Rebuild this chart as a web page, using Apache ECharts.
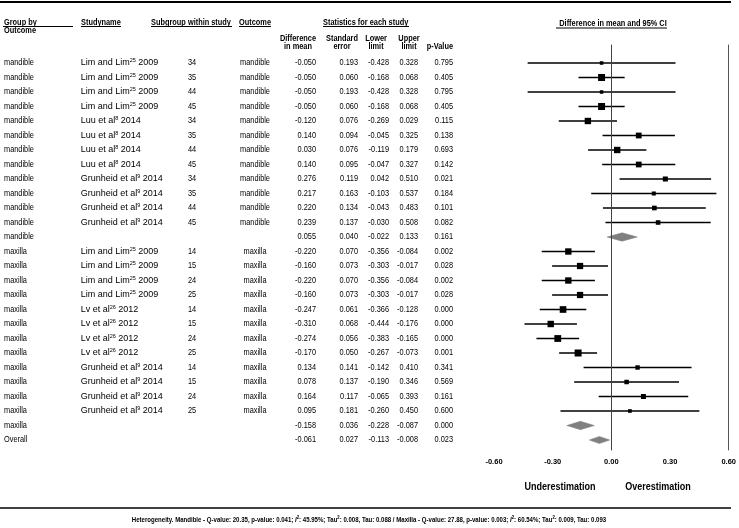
<!DOCTYPE html>
<html>
<head>
<meta charset="utf-8">
<script src="https://cdn.jsdelivr.net/npm/echarts@6/dist/echarts.min.js"></script>
<style>html,body{margin:0;padding:0;background:#fff}#c{width:739px;height:528px}</style>
</head>
<body>
<div id="c"></div>
<script>
// ---- data ----
var groups = ['mandible','mandible','mandible','mandible','mandible','mandible','mandible','mandible','mandible','mandible','mandible','mandible','mandible',
  'maxilla','maxilla','maxilla','maxilla','maxilla','maxilla','maxilla','maxilla','maxilla','maxilla','maxilla','maxilla','maxilla','Overall'];
var studyNames = ['Lim and Lim','Lim and Lim','Lim and Lim','Lim and Lim','Luu et al','Luu et al','Luu et al','Luu et al','Grunheid et al','Grunheid et al','Grunheid et al','Grunheid et al','',
  'Lim and Lim','Lim and Lim','Lim and Lim','Lim and Lim','Lv et al','Lv et al','Lv et al','Lv et al','Grunheid et al','Grunheid et al','Grunheid et al','Grunheid et al','',''];
var studyRefs = ['25','25','25','25','8','8','8','8','9','9','9','9','',
  '25','25','25','25','26','26','26','26','9','9','9','9','',''];
var studyYears = ['2009','2009','2009','2009','2014','2014','2014','2014','2014','2014','2014','2014','',
  '2009','2009','2009','2009','2012','2012','2012','2012','2014','2014','2014','2014','',''];
var subgroups = ['34','35','44','45','34','35','44','45','34','35','44','45','',
  '14','15','24','25','14','15','24','25','14','15','24','25','',''];
var outcomes = ['mandible','mandible','mandible','mandible','mandible','mandible','mandible','mandible','mandible','mandible','mandible','mandible','',
  'maxilla','maxilla','maxilla','maxilla','maxilla','maxilla','maxilla','maxilla','maxilla','maxilla','maxilla','maxilla','',''];
var rowKinds = ['study','study','study','study','study','study','study','study','study','study','study','study','summary',
  'study','study','study','study','study','study','study','study','study','study','study','study','summary','overall'];
var diffs  = [-0.050,-0.050,-0.050,-0.050,-0.120,0.140,0.030,0.140,0.276,0.217,0.220,0.239,0.055,
  -0.220,-0.160,-0.220,-0.160,-0.247,-0.310,-0.274,-0.170,0.134,0.078,0.164,0.095,-0.158,-0.061];
var stdErrs = [0.193,0.060,0.193,0.060,0.076,0.094,0.076,0.095,0.119,0.163,0.134,0.137,0.040,
  0.070,0.073,0.070,0.073,0.061,0.068,0.056,0.050,0.141,0.137,0.117,0.181,0.036,0.027];
var lowers = [-0.428,-0.168,-0.428,-0.168,-0.269,-0.045,-0.119,-0.047,0.042,-0.103,-0.043,-0.030,-0.022,
  -0.356,-0.303,-0.356,-0.303,-0.366,-0.444,-0.383,-0.267,-0.142,-0.190,-0.065,-0.260,-0.228,-0.113];
var uppers = [0.328,0.068,0.328,0.068,0.029,0.325,0.179,0.327,0.510,0.537,0.483,0.508,0.133,
  -0.084,-0.017,-0.084,-0.017,-0.128,-0.176,-0.165,-0.073,0.410,0.346,0.393,0.450,-0.087,-0.008];
var pValues = [0.795,0.405,0.795,0.405,0.115,0.138,0.693,0.142,0.021,0.184,0.101,0.082,0.161,
  0.002,0.028,0.002,0.028,0.000,0.000,0.000,0.001,0.341,0.569,0.161,0.600,0.000,0.023];
var tau2ByGroup = {mandible: 0.008, maxilla: 0.009};
var heterogeneity = ['Heterogeneity. Mandible - Q-value: 20.35, p-value: 0.041; ', '45.95%; Tau', ': 0.008, Tau: 0.088 / Maxilla - Q-value: 27.88, p-value: 0.003; ', '60.54%; Tau', ': 0.009, Tau: 0.093'];

// ---- layout ----
var SANS = "'Liberation Sans',Arial,sans-serif";
var SX = 0.82;  // horizontal squeeze to mimic a narrow face
var ROW0 = 63, ROWH = 14.5, GTOP = 45, GBOT = 450;
var yMin = (GTOP - ROW0) / ROWH, yMax = (GBOT - ROW0) / ROWH;
function f3(v){ return v.toFixed(3); }

// narrow-looking text element
function nt(x, y, txt, align, bold, size){
  return {type:'text', silent:true, x:x, y:y, scaleX:SX, scaleY:1,
    style:{text:txt, x:0, y:0, fill:'#000', textAlign:align||'left', textVerticalAlign:'middle',
      fontSize:size||9, fontFamily:SANS, fontWeight: bold?'bold':'normal'}};
}
function hline(x1, x2, y, w){
  return {type:'line', silent:true, shape:{x1:x1, y1:y, x2:x2, y2:y}, style:{stroke:'#000', lineWidth:w||1}};
}

var chart = echarts.init(document.getElementById('c'), null, {renderer:'canvas'});

var tableData = groups.map(function(g,i){ return [0, i]; });
var forestData = diffs.map(function(d,i){ return [d, i, lowers[i], uppers[i], stdErrs[i]]; });

var option = {
  animation:false,
  backgroundColor:'#fff',
  grid:{left:494, right:8.3, top:GTOP, bottom:528-GBOT, containLabel:false},
  xAxis:{type:'value', min:-0.6, max:0.6, interval:0.3,
    axisLine:{show:false}, axisTick:{show:false}, splitLine:{show:false},
    axisLabel:{margin:8, fontSize:7.5, fontWeight:'bold', fontFamily:SANS, color:'#000',
      formatter:function(v){ return v.toFixed(2); }}},
  yAxis:[
    {type:'value', inverse:true, min:yMin, max:yMax, position:'left',
      axisLine:{show:true, lineStyle:{color:'#555', width:1}}, axisTick:{show:false}, axisLabel:{show:false}, splitLine:{show:false}},
    {type:'value', inverse:true, min:yMin, max:yMax, position:'right',
      axisLine:{show:true, lineStyle:{color:'#555', width:1}}, axisTick:{show:false}, axisLabel:{show:false}, splitLine:{show:false}}
  ],
  series:[
    {
      type:'custom', name:'table', clip:false, silent:true, yAxisIndex:0,
      data: tableData, encode:{x:0, y:1},
      renderItem:function(params, api){
        var i = params.dataIndex;
        var y = api.coord([0, i])[1];
        var ch = [];
        ch.push(nt(4, y, groups[i], 'left'));
        if (studyNames[i]) {
          ch.push({type:'text', silent:true, x:80.7, y:y, style:{
            text:'{a|'+studyNames[i]+'}{s|'+studyRefs[i]+'}{a| '+studyYears[i]+'}',
            x:0, y:0, textAlign:'left', textVerticalAlign:'middle',
            rich:{a:{fontSize:9, fontFamily:SANS, color:'#000', lineHeight:11, verticalAlign:'middle'},
                  s:{fontSize:5.5, fontFamily:SANS, color:'#000', lineHeight:11, verticalAlign:'top'}}}});
        }
        if (subgroups[i]) ch.push(nt(188, y, subgroups[i], 'left'));
        if (outcomes[i]) ch.push(nt(255, y, outcomes[i], 'center'));
        ch.push(nt(316, y, f3(diffs[i]), 'right'));
        ch.push(nt(358, y, f3(stdErrs[i]), 'right'));
        ch.push(nt(389, y, f3(lowers[i]), 'right'));
        ch.push(nt(418, y, f3(uppers[i]), 'right'));
        ch.push(nt(453, y, f3(pValues[i]), 'right'));
        return {type:'group', children:ch};
      }
    },
    {
      type:'custom', name:'forest', clip:false, yAxisIndex:0,
      data: forestData, encode:{x:0, y:1},
      renderItem:function(params, api){
        var i = params.dataIndex;
        var est = api.value(0), r = api.value(1), lo = api.value(2), hi = api.value(3), se = api.value(4);
        var pc = api.coord([est, r]), pl = api.coord([lo, r]), ph = api.coord([hi, r]);
        if (rowKinds[i] === 'study') {
          var tau2 = tau2ByGroup[groups[i]];
          var side = 0.75 * Math.sqrt(1 / (se*se + tau2));
          return {type:'group', children:[
            {type:'line', shape:{x1:pl[0], y1:pl[1], x2:ph[0], y2:ph[1]}, style:{stroke:'#000', lineWidth:1.3}},
            {type:'rect', shape:{x:pc[0]-side/2, y:pc[1]-side/2, width:side, height:side}, style:{fill:'#000'}}
          ]};
        }
        var hh = rowKinds[i] === 'overall' ? 3.6 : 4.2;
        return {type:'polygon', shape:{points:[[pl[0],pl[1]],[pc[0],pc[1]-hh],[ph[0],ph[1]],[pc[0],pc[1]+hh]]},
          style:{fill:'#808080', stroke:'#808080', lineWidth:0.5}};
      },
      markLine:{silent:true, symbol:['none','none'], label:{show:false},
        lineStyle:{color:'#444', width:1, type:'solid'}, data:[{xAxis:0}]}
    }
  ],
  graphic:[
    hline(0, 731, 2, 2),
    hline(0, 731, 508, 1.6),
    // header row 1
    nt(4, 22.5, 'Group by', 'left', true),
    nt(4, 30.5, 'Outcome', 'left', true),
    hline(3, 73, 26.5),
    nt(81, 22.5, 'Studyname', 'left', true),
    hline(81, 121, 26.5),
    nt(151, 22.5, 'Subgroup within study', 'left', true),
    hline(151, 232, 26.5),
    nt(239, 22.5, 'Outcome', 'left', true),
    hline(239, 271, 26.5),
    nt(323, 22.5, 'Statistics for each study', 'left', true),
    hline(323, 409, 26.5),
    nt(613, 23.5, 'Difference in mean and 95% CI', 'center', true),
    hline(556, 667, 28),
    // header row 2
    nt(298, 38.5, 'Difference', 'center', true),
    nt(298, 46.5, 'in mean', 'center', true),
    nt(342, 38.5, 'Standard', 'center', true),
    nt(342, 46.5, 'error', 'center', true),
    nt(376, 38.5, 'Lower', 'center', true),
    nt(376, 46.5, 'limit', 'center', true),
    nt(409, 38.5, 'Upper', 'center', true),
    nt(409, 46.5, 'limit', 'center', true),
    nt(453, 46.5, 'p-Value', 'right', true),
    // bottom labels
    nt(560, 487, 'Underestimation', 'center', true, 11),
    nt(658, 487, 'Overestimation', 'center', true, 11),
    {type:'text', silent:true, x:369, y:520, scaleX:SX, style:{
      text:'{b|'+heterogeneity[0]+'}{i|I}{s|2}{b|: '+heterogeneity[1]+'}{s|2}{b|'+heterogeneity[2]+'}{i|I}{s|2}{b|: '+heterogeneity[3]+'}{s|2}{b|'+heterogeneity[4]+'}',
      x:0, y:0, textAlign:'center', textVerticalAlign:'middle',
      rich:{b:{fontSize:7.4, fontWeight:'bold', fontFamily:SANS, color:'#000', lineHeight:10, verticalAlign:'middle'},
            i:{fontSize:7.4, fontWeight:'bold', fontStyle:'italic', fontFamily:SANS, color:'#000', lineHeight:10, verticalAlign:'middle'},
            s:{fontSize:5.2, fontWeight:'bold', fontFamily:SANS, color:'#000', lineHeight:10, verticalAlign:'top'}}}}
  ]
};
chart.setOption(option);
</script>
</body>
</html>
